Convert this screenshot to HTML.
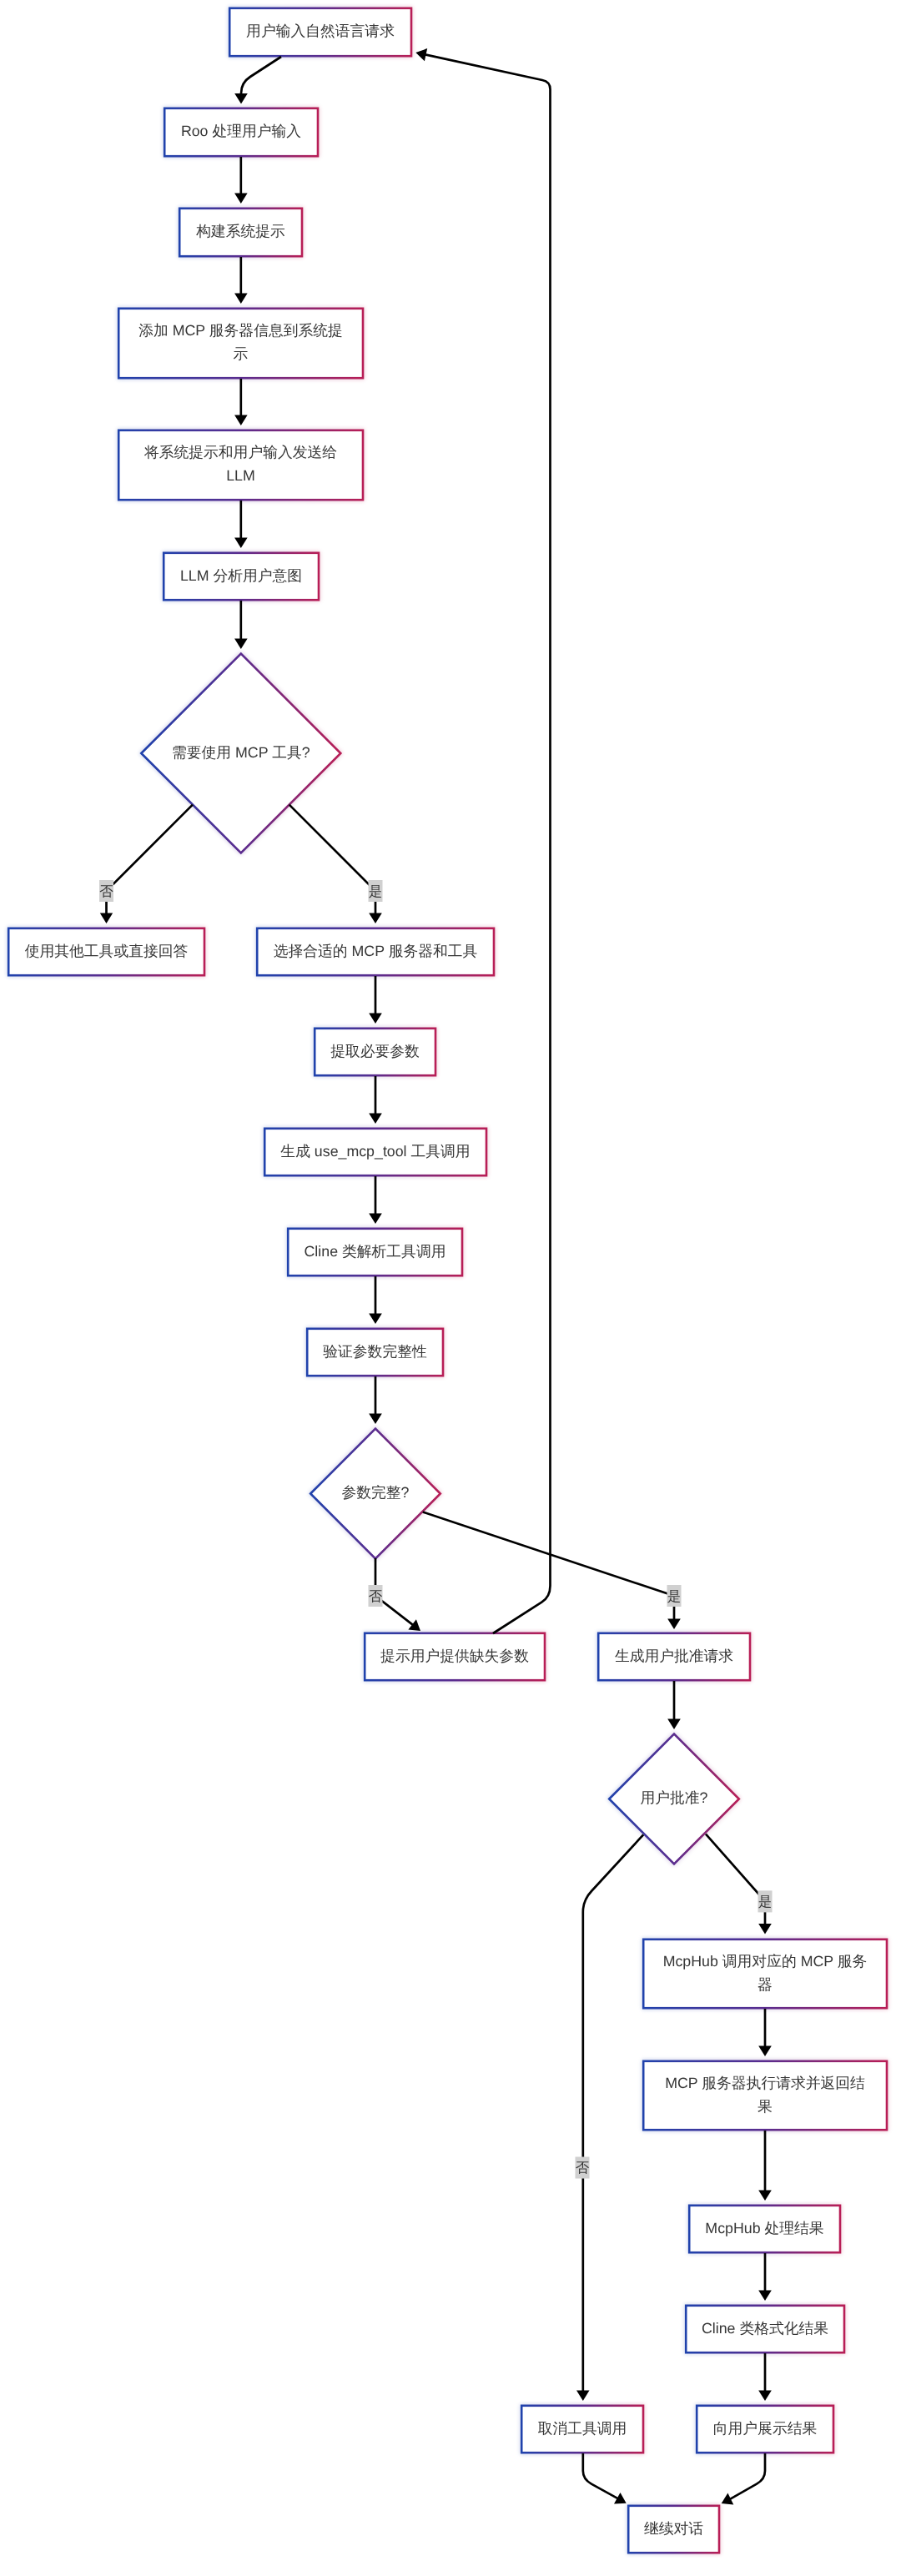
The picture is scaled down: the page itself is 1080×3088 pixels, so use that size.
<!DOCTYPE html>
<html><head><meta charset="utf-8"><title>flow</title>
<style>
html,body{margin:0;padding:0;background:#fff;}
body{width:1080px;height:3088px;overflow:hidden;position:relative;font-family:"Liberation Sans",sans-serif;}
svg{position:absolute;left:0;top:0;}
.t{font-family:"Liberation Sans",sans-serif;font-size:17.8px;fill:#363636;text-rendering:geometricPrecision;}
.lt{font-family:"Liberation Sans",sans-serif;font-size:16.5px;fill:#363636;text-rendering:geometricPrecision;}
</style></head><body>
<svg width="1080" height="3088" viewBox="0 0 1080 3088">
<defs>
<linearGradient id="g" x1="0" y1="0" x2="1" y2="0">
<stop offset="0" stop-color="#2042ac"/>
<stop offset="0.5" stop-color="#5a2c8e"/>
<stop offset="1" stop-color="#b81e56"/>
</linearGradient>
<filter id="glow" x="-5%" y="-5%" width="110%" height="110%"><feGaussianBlur stdDeviation="2.5"/></filter>
</defs>

<g filter="url(#glow)" opacity="0.35"><rect x="275.2" y="9.8" width="217.8" height="57.4" fill="none" stroke="url(#g)" stroke-width="2.6"/><rect x="197.2" y="129.8" width="183.8" height="57.4" fill="none" stroke="url(#g)" stroke-width="2.6"/><rect x="215.2" y="249.8" width="146.8" height="57.4" fill="none" stroke="url(#g)" stroke-width="2.6"/><rect x="142.2" y="369.8" width="292.8" height="83.4" fill="none" stroke="url(#g)" stroke-width="2.6"/><rect x="142.2" y="515.8" width="292.8" height="83.4" fill="none" stroke="url(#g)" stroke-width="2.6"/><rect x="196.2" y="662.8" width="185.8" height="56.4" fill="none" stroke="url(#g)" stroke-width="2.6"/><rect x="10.2" y="1112.8" width="234.8" height="56.4" fill="none" stroke="url(#g)" stroke-width="2.6"/><rect x="308.2" y="1112.8" width="283.8" height="56.4" fill="none" stroke="url(#g)" stroke-width="2.6"/><rect x="377.2" y="1232.8" width="144.8" height="56.4" fill="none" stroke="url(#g)" stroke-width="2.6"/><rect x="317.2" y="1352.8" width="265.8" height="56.4" fill="none" stroke="url(#g)" stroke-width="2.6"/><rect x="345.2" y="1472.8" width="208.8" height="56.4" fill="none" stroke="url(#g)" stroke-width="2.6"/><rect x="368.2" y="1592.8" width="162.8" height="56.4" fill="none" stroke="url(#g)" stroke-width="2.6"/><rect x="437.2" y="1957.8" width="215.8" height="56.4" fill="none" stroke="url(#g)" stroke-width="2.6"/><rect x="717.2" y="1957.8" width="181.8" height="56.4" fill="none" stroke="url(#g)" stroke-width="2.6"/><rect x="771.2" y="2324.8" width="291.8" height="82.4" fill="none" stroke="url(#g)" stroke-width="2.6"/><rect x="771.2" y="2470.8" width="291.8" height="82.4" fill="none" stroke="url(#g)" stroke-width="2.6"/><rect x="826.2" y="2643.8" width="180.8" height="56.4" fill="none" stroke="url(#g)" stroke-width="2.6"/><rect x="822.2" y="2763.8" width="189.8" height="56.4" fill="none" stroke="url(#g)" stroke-width="2.6"/><rect x="625.2" y="2883.8" width="145.8" height="56.4" fill="none" stroke="url(#g)" stroke-width="2.6"/><rect x="835.2" y="2883.8" width="163.8" height="56.4" fill="none" stroke="url(#g)" stroke-width="2.6"/><rect x="753.2" y="3003.8" width="108.8" height="56.4" fill="none" stroke="url(#g)" stroke-width="2.6"/><polygon points="169.3,903 288.8,783.5 408.3,903 288.8,1022.5" fill="none" stroke="url(#g)" stroke-width="2.6"/><polygon points="372.2,1790.5 450,1712.7 527.8,1790.5 450,1868.3" fill="none" stroke="url(#g)" stroke-width="2.6"/><polygon points="730.2,2156.5 808,2078.7 885.8,2156.5 808,2234.3" fill="none" stroke="url(#g)" stroke-width="2.6"/></g>
<rect x="275.2" y="9.8" width="217.8" height="57.4" fill="#fff" stroke="url(#g)" stroke-width="2.6"/>
<rect x="197.2" y="129.8" width="183.8" height="57.4" fill="#fff" stroke="url(#g)" stroke-width="2.6"/>
<rect x="215.2" y="249.8" width="146.8" height="57.4" fill="#fff" stroke="url(#g)" stroke-width="2.6"/>
<rect x="142.2" y="369.8" width="292.8" height="83.4" fill="#fff" stroke="url(#g)" stroke-width="2.6"/>
<rect x="142.2" y="515.8" width="292.8" height="83.4" fill="#fff" stroke="url(#g)" stroke-width="2.6"/>
<rect x="196.2" y="662.8" width="185.8" height="56.4" fill="#fff" stroke="url(#g)" stroke-width="2.6"/>
<rect x="10.2" y="1112.8" width="234.8" height="56.4" fill="#fff" stroke="url(#g)" stroke-width="2.6"/>
<rect x="308.2" y="1112.8" width="283.8" height="56.4" fill="#fff" stroke="url(#g)" stroke-width="2.6"/>
<rect x="377.2" y="1232.8" width="144.8" height="56.4" fill="#fff" stroke="url(#g)" stroke-width="2.6"/>
<rect x="317.2" y="1352.8" width="265.8" height="56.4" fill="#fff" stroke="url(#g)" stroke-width="2.6"/>
<rect x="345.2" y="1472.8" width="208.8" height="56.4" fill="#fff" stroke="url(#g)" stroke-width="2.6"/>
<rect x="368.2" y="1592.8" width="162.8" height="56.4" fill="#fff" stroke="url(#g)" stroke-width="2.6"/>
<rect x="437.2" y="1957.8" width="215.8" height="56.4" fill="#fff" stroke="url(#g)" stroke-width="2.6"/>
<rect x="717.2" y="1957.8" width="181.8" height="56.4" fill="#fff" stroke="url(#g)" stroke-width="2.6"/>
<rect x="771.2" y="2324.8" width="291.8" height="82.4" fill="#fff" stroke="url(#g)" stroke-width="2.6"/>
<rect x="771.2" y="2470.8" width="291.8" height="82.4" fill="#fff" stroke="url(#g)" stroke-width="2.6"/>
<rect x="826.2" y="2643.8" width="180.8" height="56.4" fill="#fff" stroke="url(#g)" stroke-width="2.6"/>
<rect x="822.2" y="2763.8" width="189.8" height="56.4" fill="#fff" stroke="url(#g)" stroke-width="2.6"/>
<rect x="625.2" y="2883.8" width="145.8" height="56.4" fill="#fff" stroke="url(#g)" stroke-width="2.6"/>
<rect x="835.2" y="2883.8" width="163.8" height="56.4" fill="#fff" stroke="url(#g)" stroke-width="2.6"/>
<rect x="753.2" y="3003.8" width="108.8" height="56.4" fill="#fff" stroke="url(#g)" stroke-width="2.6"/>
<polygon points="169.3,903 288.8,783.5 408.3,903 288.8,1022.5" fill="#fff" stroke="url(#g)" stroke-width="2.6"/>
<polygon points="372.2,1790.5 450,1712.7 527.8,1790.5 450,1868.3" fill="#fff" stroke="url(#g)" stroke-width="2.6"/>
<polygon points="730.2,2156.5 808,2078.7 885.8,2156.5 808,2234.3" fill="#fff" stroke="url(#g)" stroke-width="2.6"/>
<path d="M288.8,188 L288.8,232.5" fill="none" stroke="#000" stroke-width="2.7"/>
<polygon points="288.8,244.0 281.1,231.5 296.6,231.5" fill="#000"/>
<path d="M288.8,308 L288.8,352.5" fill="none" stroke="#000" stroke-width="2.7"/>
<polygon points="288.8,364.0 281.1,351.5 296.6,351.5" fill="#000"/>
<path d="M288.8,454 L288.8,498.5" fill="none" stroke="#000" stroke-width="2.7"/>
<polygon points="288.8,510.0 281.1,497.5 296.6,497.5" fill="#000"/>
<path d="M288.8,600 L288.8,645.5" fill="none" stroke="#000" stroke-width="2.7"/>
<polygon points="288.8,657.0 281.1,644.5 296.6,644.5" fill="#000"/>
<path d="M288.8,720 L288.8,766.5" fill="none" stroke="#000" stroke-width="2.7"/>
<polygon points="288.8,778.0 281.1,765.5 296.6,765.5" fill="#000"/>
<path d="M450,1170 L450,1215.5" fill="none" stroke="#000" stroke-width="2.7"/>
<polygon points="450.0,1227.0 442.2,1214.5 457.8,1214.5" fill="#000"/>
<path d="M450,1290 L450,1335.5" fill="none" stroke="#000" stroke-width="2.7"/>
<polygon points="450.0,1347.0 442.2,1334.5 457.8,1334.5" fill="#000"/>
<path d="M450,1410 L450,1455.5" fill="none" stroke="#000" stroke-width="2.7"/>
<polygon points="450.0,1467.0 442.2,1454.5 457.8,1454.5" fill="#000"/>
<path d="M450,1530 L450,1575.5" fill="none" stroke="#000" stroke-width="2.7"/>
<polygon points="450.0,1587.0 442.2,1574.5 457.8,1574.5" fill="#000"/>
<path d="M450,1650 L450,1695.5" fill="none" stroke="#000" stroke-width="2.7"/>
<polygon points="450.0,1707.0 442.2,1694.5 457.8,1694.5" fill="#000"/>
<path d="M808,2015 L808,2061.5" fill="none" stroke="#000" stroke-width="2.7"/>
<polygon points="808.0,2073.0 800.2,2060.5 815.8,2060.5" fill="#000"/>
<path d="M917,2408 L917,2453.5" fill="none" stroke="#000" stroke-width="2.7"/>
<polygon points="917.0,2465.0 909.2,2452.5 924.8,2452.5" fill="#000"/>
<path d="M917,2554 L917,2626.5" fill="none" stroke="#000" stroke-width="2.7"/>
<polygon points="917.0,2638.0 909.2,2625.5 924.8,2625.5" fill="#000"/>
<path d="M917,2701 L917,2746.5" fill="none" stroke="#000" stroke-width="2.7"/>
<polygon points="917.0,2758.0 909.2,2745.5 924.8,2745.5" fill="#000"/>
<path d="M917,2821 L917,2866.5" fill="none" stroke="#000" stroke-width="2.7"/>
<polygon points="917.0,2878.0 909.2,2865.5 924.8,2865.5" fill="#000"/>
<path d="M337,68 L300,92 Q289,99 289,112 L289,112" fill="none" stroke="#000" stroke-width="2.7"/>
<polygon points="289.0,124.5 281.2,112.0 296.8,112.0" fill="#000"/>
<path d="M230.9,964.6 L127.5,1068 L127.5,1095" fill="none" stroke="#000" stroke-width="2.7"/>
<polygon points="127.5,1107.0 119.8,1094.5 135.2,1094.5" fill="#000"/>
<path d="M346.7,964.6 L450,1068 L450,1095" fill="none" stroke="#000" stroke-width="2.7"/>
<polygon points="450.0,1107.0 442.2,1094.5 457.8,1094.5" fill="#000"/>
<path d="M450,1868 L450,1913 L494.9,1947.9" fill="none" stroke="#000" stroke-width="2.7"/>
<polygon points="504.0,1955.0 489.4,1953.4 498.9,1941.2" fill="#000"/>
<path d="M506.8,1812.5 L808,1913 L808,1941" fill="none" stroke="#000" stroke-width="2.7"/>
<polygon points="808.0,1953.0 800.2,1940.5 815.8,1940.5" fill="#000"/>
<path d="M591,1958 L649.3,1920.7 Q659.5,1914.2 659.5,1901 L659.5,107 Q659.5,98 650,96 L509.5,65.4" fill="none" stroke="#000" stroke-width="2.7"/>
<polygon points="498.3,63.0 512.2,58.1 508.9,73.2" fill="#000"/>
<path d="M771.2,2199.3 L709,2267 Q698.8,2278 698.8,2292 L698.8,2866" fill="none" stroke="#000" stroke-width="2.7"/>
<polygon points="698.8,2878.0 691.0,2865.5 706.5,2865.5" fill="#000"/>
<path d="M846,2198.6 L917,2279 L917,2306" fill="none" stroke="#000" stroke-width="2.7"/>
<polygon points="917.0,2318.5 909.2,2306.0 924.8,2306.0" fill="#000"/>
<path d="M698.8,2941 L698.8,2962 Q698.8,2972 708.9,2977.6 L740.6,2995.1" fill="none" stroke="#000" stroke-width="2.7"/>
<polygon points="750.7,3000.7 736.0,3001.4 743.5,2987.9" fill="#000"/>
<path d="M917,2941 L917,2962 Q917,2972 907,2977.6 L875.0,2995.9" fill="none" stroke="#000" stroke-width="2.7"/>
<polygon points="864.7,3001.0 872.4,2988.5 879.3,3002.4" fill="#000"/>
<rect x="119.0" y="1055" width="17" height="26" fill="#d0d0d0"/>
<rect x="441.5" y="1055" width="17" height="26" fill="#d0d0d0"/>
<rect x="441.5" y="1900" width="17" height="26" fill="#d0d0d0"/>
<rect x="799.5" y="1900" width="17" height="26" fill="#d0d0d0"/>
<rect x="908.5" y="2266.4" width="17" height="26" fill="#d0d0d0"/>
<rect x="689.5" y="2585.5" width="17" height="26" fill="#d0d0d0"/>
<g opacity="0.999">
<text class="t" x="384.0" y="43.2" text-anchor="middle">用户输入自然语言请求</text>
<text class="t" x="289.0" y="163.2" text-anchor="middle">Roo 处理用户输入</text>
<text class="t" x="288.5" y="283.2" text-anchor="middle">构建系统提示</text>
<text class="t" x="288.5" y="402.2" text-anchor="middle">添加 MCP 服务器信息到系统提</text>
<text class="t" x="288.5" y="430.2" text-anchor="middle">示</text>
<text class="t" x="288.5" y="548.2" text-anchor="middle">将系统提示和用户输入发送给</text>
<text class="t" x="288.5" y="576.2" text-anchor="middle">LLM</text>
<text class="t" x="289.0" y="695.7" text-anchor="middle">LLM 分析用户意图</text>
<text class="t" x="127.5" y="1145.7" text-anchor="middle">使用其他工具或直接回答</text>
<text class="t" x="450.0" y="1145.7" text-anchor="middle">选择合适的 MCP 服务器和工具</text>
<text class="t" x="449.5" y="1265.7" text-anchor="middle">提取必要参数</text>
<text class="t" x="450.0" y="1385.7" text-anchor="middle">生成 use_mcp_tool 工具调用</text>
<text class="t" x="449.5" y="1505.7" text-anchor="middle">Cline 类解析工具调用</text>
<text class="t" x="449.5" y="1625.7" text-anchor="middle">验证参数完整性</text>
<text class="t" x="545.0" y="1990.7" text-anchor="middle">提示用户提供缺失参数</text>
<text class="t" x="808.0" y="1990.7" text-anchor="middle">生成用户批准请求</text>
<text class="t" x="917.0" y="2356.7" text-anchor="middle">McpHub 调用对应的 MCP 服务</text>
<text class="t" x="917.0" y="2384.7" text-anchor="middle">器</text>
<text class="t" x="917.0" y="2502.7" text-anchor="middle">MCP 服务器执行请求并返回结</text>
<text class="t" x="917.0" y="2530.7" text-anchor="middle">果</text>
<text class="t" x="916.5" y="2676.7" text-anchor="middle">McpHub 处理结果</text>
<text class="t" x="917.0" y="2796.7" text-anchor="middle">Cline 类格式化结果</text>
<text class="t" x="698.0" y="2916.7" text-anchor="middle">取消工具调用</text>
<text class="t" x="917.0" y="2916.7" text-anchor="middle">向用户展示结果</text>
<text class="t" x="807.5" y="3036.7" text-anchor="middle">继续对话</text>
<text class="t" x="288.8" y="907.7" text-anchor="middle">需要使用 MCP 工具?</text>
<text class="t" x="450" y="1795.2" text-anchor="middle">参数完整?</text>
<text class="t" x="808" y="2161.2" text-anchor="middle">用户批准?</text>
<text class="lt" x="127.5" y="1073.5" text-anchor="middle">否</text>
<text class="lt" x="450" y="1073.5" text-anchor="middle">是</text>
<text class="lt" x="450" y="1918.5" text-anchor="middle">否</text>
<text class="lt" x="808" y="1918.5" text-anchor="middle">是</text>
<text class="lt" x="917" y="2284.9" text-anchor="middle">是</text>
<text class="lt" x="698" y="2604.0" text-anchor="middle">否</text>
</g>
</svg></body></html>
